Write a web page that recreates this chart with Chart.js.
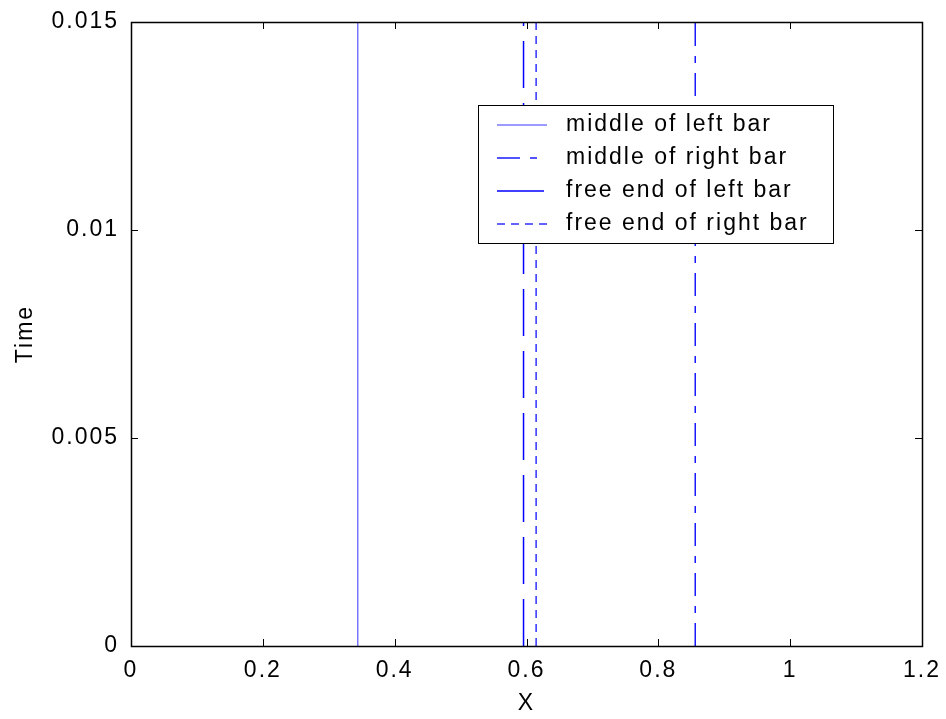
<!DOCTYPE html>
<html>
<head>
<meta charset="utf-8">
<script src="https://cdn.jsdelivr.net/npm/chart.js@4.4.1/dist/chart.umd.min.js"></script>
<style>
  html, body { margin: 0; padding: 0; background: #fff; }
  #wrap { width: 946px; height: 719px; }
</style>
</head>
<body>
<div id="wrap"><canvas id="myChart" width="946" height="719"></canvas></div>
<script>
// series shown in the legend, in legend order
const seriesNames = ['middle of left bar', 'middle of right bar', 'free end of left bar', 'free end of right bar'];
// x position of each vertical line
const seriesX = [0.344, 0.856, 0.5955, 0.6146];
// each line spans the whole time range
const timeRange = [0, 0.015];
const seriesColors = ['#7878ff', '#1a1aff', '#0000ff', '#3030ff'];
const seriesDash = [[], [23, 10, 7, 10], [47, 15], [8, 6]];

const xTicks = [0, 0.2, 0.4, 0.6, 0.8, 1, 1.2];
const yTicks = [0, 0.005, 0.01, 0.015];

const FONT = { family: 'Liberation Sans, Arial, sans-serif', size: 23 };

const datasets = seriesNames.map((name, i) => ({
  label: name,
  data: timeRange.map(t => ({ x: seriesX[i], y: t })),
  borderColor: seriesColors[i],
  borderDash: seriesDash[i],
  borderWidth: 1.5,
  pointRadius: 0,
  fill: false
}));

// matlab-ish spacing of letters
const spacingPlugin = {
  id: 'spacing',
  beforeInit(chart) { chart.ctx.letterSpacing = '2px'; },
  beforeDraw(chart) { chart.ctx.letterSpacing = '2px'; }
};

// box round the axes and ticks pointing inward
const boxPlugin = {
  id: 'box',
  afterDraw(chart) {
    const { ctx, chartArea: a, scales } = chart;
    ctx.save();
    ctx.strokeStyle = '#000';
    ctx.lineWidth = 1;
    const L = 7;
    ctx.beginPath();
    xTicks.forEach(v => {
      const px = Math.round(scales.x.getPixelForValue(v)) + 0.5;
      ctx.moveTo(px, a.bottom); ctx.lineTo(px, a.bottom - L);
      ctx.moveTo(px, a.top); ctx.lineTo(px, a.top + L);
    });
    yTicks.forEach(v => {
      const py = Math.round(scales.y.getPixelForValue(v)) + 0.5;
      ctx.moveTo(a.left, py); ctx.lineTo(a.left + L, py);
      ctx.moveTo(a.right, py); ctx.lineTo(a.right - L, py);
    });
    ctx.stroke();
    ctx.lineWidth = 1.5;
    ctx.strokeRect(Math.round(a.left) + 0.5, Math.round(a.top) + 0.5,
                   Math.round(a.right - a.left), Math.round(a.bottom - a.top));
    ctx.restore();
  }
};

// legend box inside the plot, like matlab's
const legendPlugin = {
  id: 'boxLegend',
  afterDraw(chart) {
    const ctx = chart.ctx;
    const x0 = 478, y0 = 105, w = 355, h = 138;
    ctx.save();
    ctx.fillStyle = '#fff';
    ctx.fillRect(x0, y0, w, h);
    ctx.strokeStyle = '#000';
    ctx.lineWidth = 1;
    ctx.strokeRect(x0 + 0.5, y0 + 0.5, w, h);
    ctx.font = FONT.size + 'px ' + FONT.family;
    ctx.textBaseline = 'middle';
    ctx.letterSpacing = '2px';
    chart.data.datasets.forEach((ds, i) => {
      const y = y0 + 20 + i * 33;
      ctx.strokeStyle = ds.borderColor;
      ctx.lineWidth = ds.borderWidth;
      ctx.setLineDash(ds.borderDash);
      ctx.beginPath();
      ctx.moveTo(497, y);
      ctx.lineTo(547, y);
      ctx.stroke();
      ctx.setLineDash([]);
      ctx.fillStyle = '#000';
      ctx.fillText(ds.label, 566, y);
    });
    ctx.restore();
  }
};

const fmt = v => String(+(+v).toFixed(4));

const config = {
  type: 'line',
  data: { datasets: datasets },
  options: {
    responsive: false,
    animation: false,
    layout: { padding: { top: 22, right: 24, left: 0, bottom: 0 } },
    plugins: { legend: { display: false }, tooltip: { enabled: false } },
    scales: {
      x: {
        type: 'linear',
        min: 0, max: 1.2,
        afterBuildTicks: s => { s.ticks = xTicks.map(v => ({ value: v })); },
        afterFit: s => { s.height = 73; s.paddingLeft = 0; s.paddingRight = 0; },
        grid: { display: false, drawTicks: false },
        border: { display: false },
        ticks: { color: '#000', font: FONT, padding: 11, maxRotation: 0, callback: fmt },
        title: { display: true, text: 'X', color: '#000', font: FONT, padding: { top: 0, bottom: 2 } }
      },
      y: {
        type: 'linear',
        min: timeRange[0], max: timeRange[1],
        afterBuildTicks: s => { s.ticks = yTicks.map(v => ({ value: v })); },
        afterFit: s => { s.width = 131; s.paddingTop = 0; s.paddingBottom = 0; },
        grid: { display: false, drawTicks: false },
        border: { display: false },
        ticks: { color: '#000', font: FONT, padding: 12, callback: fmt },
        title: { display: true, text: 'Time', color: '#000', font: FONT, padding: { top: 12, bottom: 0 } }
      }
    }
  },
  plugins: [spacingPlugin, boxPlugin, legendPlugin]
};

const myChart = new Chart(document.getElementById('myChart'), config);
</script>
</body>
</html>
